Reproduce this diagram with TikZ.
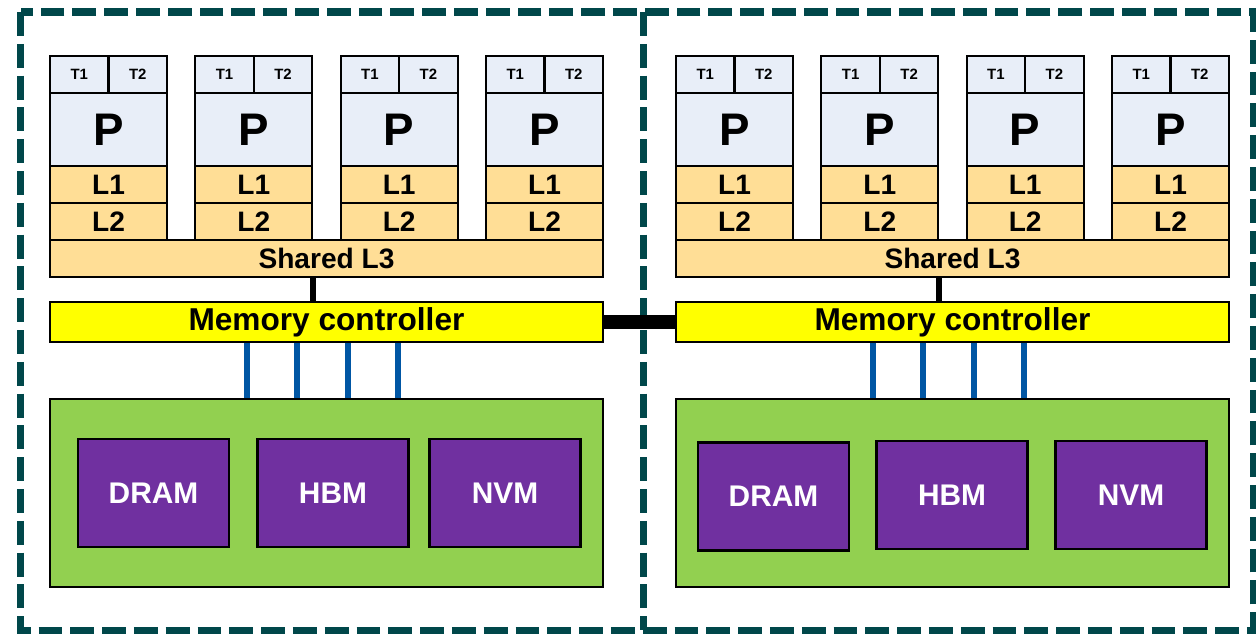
\documentclass[tikz,border=0pt]{standalone}
\usepackage{fontspec}
\setmainfont{Liberation Sans}
\definecolor{threadblue}{HTML}{E8EEF8}
\definecolor{cachegold}{HTML}{FFDE96}
\definecolor{mcyellow}{HTML}{FFFF00}
\definecolor{memgreen}{HTML}{92D050}
\definecolor{techpurple}{HTML}{7030A0}
\definecolor{socketteal}{HTML}{00474A}
\definecolor{busblue}{HTML}{0056A4}
\begin{document}
\begin{tikzpicture}[x=0.02cm,y=-0.02cm,
    box/.style={shape=rectangle,draw=black,line width=1.2pt,inner sep=0pt},
    thread/.style={box,fill=threadblue,minimum width=1.17cm,minimum height=0.74cm,font=\bfseries\fontsize{8.5}{10}\selectfont},
    proc/.style={box,fill=threadblue,minimum width=2.34cm,minimum height=1.46cm,font=\bfseries\fontsize{26}{28}\selectfont},
    cache/.style={box,fill=cachegold,minimum width=2.34cm,minimum height=0.74cm,font=\bfseries\fontsize{16}{18}\selectfont},
    shared/.style={box,fill=cachegold,minimum width=11.06cm,minimum height=0.74cm,font=\bfseries\fontsize{16}{18}\selectfont},
    memctrl/.style={box,fill=mcyellow,minimum width=11.06cm,minimum height=0.8cm,font=\bfseries\fontsize{18}{20}\selectfont},
    membank/.style={box,fill=memgreen,minimum width=11.06cm,minimum height=3.76cm},
    memtech/.style={box,fill=techpurple,text=white,minimum width=3.02cm,minimum height=2.16cm,font=\bfseries\fontsize{17}{19}\selectfont},
    socket/.style={draw=socketteal,line width=4pt,dash pattern=on 13.6pt off 4.5pt},
    bus/.style={draw=busblue,line width=3.4pt},
    link/.style={draw=black,line width=3.4pt}]
  \useasboundingbox (0,0) rectangle (1256,633);

  % sockets
  \draw[socket] (20.5,12) rectangle (1253,630);
  \draw[socket] (643.5,12) -- (643.5,630);

  % cores
  \foreach \s/\xs in {a/50,b/676} {
    \foreach \i in {1,...,4} {
      \pgfmathsetmacro{\x}{\xs+145.33*(\i-1)}
      \node[thread] (t1\s\i) at (\x+29.25,74.5) {T1};
      \node[thread] (t2\s\i) at (\x+87.75,74.5) {T2};
      \node[proc] (p\s\i) at (\x+58.5,129.5) {P};
      \node[cache] (l1\s\i) at (\x+58.5,184.5) {L1};
      \node[cache] (l2\s\i) at (\x+58.5,221.5) {L2};
    }
  }

  % shared cache, controller, memory
  \node[shared] (l3a) at (326.5,258.5) {Shared L3};
  \node[shared] (l3b) at (952.5,258.5) {Shared L3};
  \node[memctrl] (mca) at (326.5,322) {Memory controller};
  \node[memctrl] (mcb) at (952.5,322) {Memory controller};
  \node[membank] (mema) at (326.5,493) {};
  \node[membank] (memb) at (952.5,493) {};

  \node[memtech] (drama) at (153.5,493) {DRAM};
  \node[memtech] (hbma) at (333,493) {HBM};
  \node[memtech] (nvma) at (505,493) {NVM};
  \node[memtech] (dramb) at (773.5,496.5) {DRAM};
  \node[memtech] (hbmb) at (952,495) {HBM};
  \node[memtech] (nvmb) at (1131,495) {NVM};

  % links
  \draw[link] (l3a.south -| pa2.east) -- (mca.north -| pa2.east);
  \draw[link] (l3b.south -| pb2.east) -- (mcb.north -| pb2.east);
  \draw[draw=black,line width=8.5pt] (mca.east) -- (mcb.west);

  \foreach \k in {0,...,3} {
    \draw[bus] ([xshift=3.96cm+1.01cm*\k]mca.south west) -- ([xshift=3.96cm+1.01cm*\k]mema.north west);
    \draw[bus] ([xshift=3.96cm+1.01cm*\k]mcb.south west) -- ([xshift=3.96cm+1.01cm*\k]memb.north west);
  }
\end{tikzpicture}
\end{document}
